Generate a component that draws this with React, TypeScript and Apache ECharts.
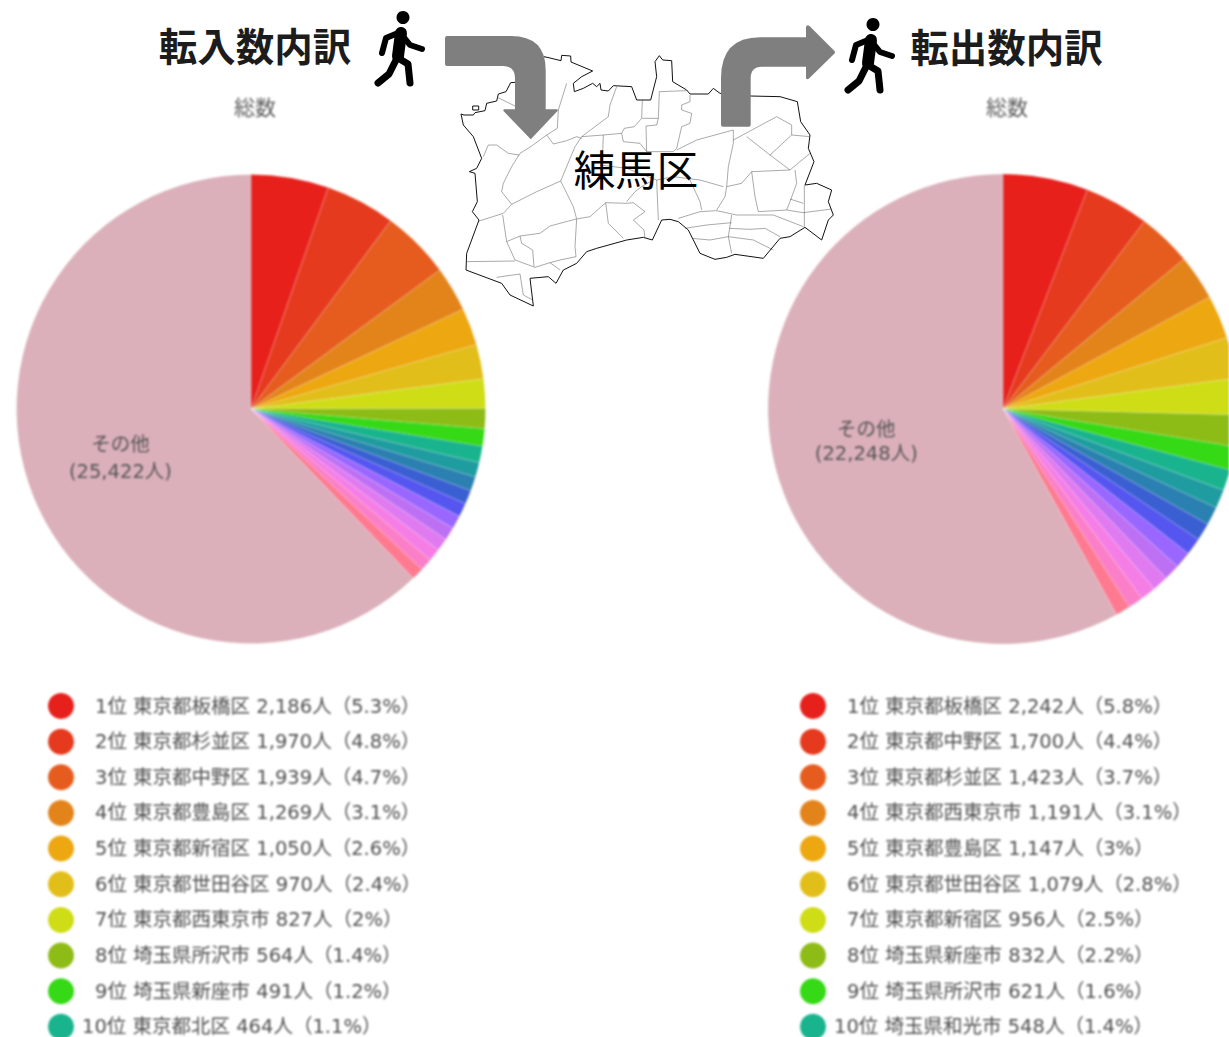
import React, { useEffect, useRef } from "react";
import * as echarts from "echarts";

const inRegions = ["東京都板橋区","東京都杉並区","東京都中野区","東京都豊島区","東京都新宿区","東京都世田谷区","東京都西東京市","埼玉県所沢市","埼玉県新座市","東京都北区"];
const inValues = [2186,1970,1939,1269,1050,970,827,564,491,464];
const inPercents = ["5.3","4.8","4.7","3.1","2.6","2.4","2","1.4","1.2","1.1"];
const inMinorValues = [412,402,392,385,375,368,362,356,350,346];
const inOther = 25422;

const outRegions = ["東京都板橋区","東京都中野区","東京都杉並区","東京都西東京市","東京都豊島区","東京都世田谷区","東京都新宿区","埼玉県新座市","埼玉県所沢市","埼玉県和光市"];
const outValues = [2242,1700,1423,1191,1147,1079,956,832,621,548];
const outPercents = ["5.8","4.4","3.7","3.1","3","2.8","2.5","2.2","1.6","1.4"];
const outMinorValues = [495,480,465,450,437,425,415,405,395,388];
const outOther = 22248;

const palette = ["#E8201C","#E63A1F","#E65C1E","#E3841B","#EDA710","#E2BE1A","#CFDD17","#8DBC16","#36D916","#19B48D","#1F9CA0","#2A80B0","#3A5FD2","#5555F0","#9966FF","#BE70F5","#E07AF0","#F57EE6","#FB7FC8","#FF7A90"];
const otherColor = "#DBB0BA";

const mapOutline = [[63,282],[72,285],[100,285],[105,278],[135,272],[140,250],[170,243],[175,222],[198,215],[212,188],[225,187],[300,135],[313,110],[363,122],[365,106],[392,108],[393,126],[458,153],[425,170],[400,190],[403,215],[430,205],[458,190],[470,200],[480,190],[483,210],[505,213],[520,197],[575,200],[590,240],[632,240],[650,170],[645,125],[658,107],[668,120],[695,122],[698,185],[740,210],[750,222],[805,222],[820,205],[840,220],[930,228],[1020,230],[1072,245],[1082,305],[1110,345],[1105,385],[1122,425],[1095,495],[1130,490],[1175,510],[1165,545],[1180,585],[1165,600],[1145,660],[1095,622],[1050,650],[1020,655],[970,715],[885,703],[860,712],[825,718],[780,700],[745,630],[715,605],[690,598],[665,600],[637,660],[610,652],[560,660],[470,685],[440,695],[410,730],[370,750],[348,790],[325,770],[270,775],[280,858],[210,825],[185,790],[78,750],[80,700],[117,600],[97,575],[112,545],[105,460],[88,455],[110,445],[125,415],[100,350],[70,315]];
const mapInner = [
  [[172,232],[225,258]],
  [[380,190],[355,270],[352,325],[320,345],[275,378],[240,400],[215,440],[190,490],[185,515],[215,553],[190,580],[117,603]],
  [[130,410],[145,375],[170,375],[205,400],[238,405]],
  [[215,553],[290,515],[362,483],[400,560],[410,597],[405,680],[408,710],[360,720],[330,728],[285,742],[225,720],[200,665],[188,585]],
  [[362,483],[405,380],[425,350],[490,345],[545,340],[553,325],[583,320],[605,295],[607,240]],
  [[425,350],[505,290],[510,255],[530,200]],
  [[320,345],[340,372],[380,362],[410,350],[425,355]],
  [[490,345],[487,425]],
  [[410,597],[450,590],[497,548],[560,550],[580,548],[615,575],[580,600],[612,630],[615,655]],
  [[497,548],[505,610],[550,655]],
  [[200,665],[240,648],[300,640],[330,618],[408,597]],
  [[240,648],[245,670],[278,690],[282,740]],
  [[80,725],[225,723]],
  [[170,772],[240,762],[250,825],[278,840]],
  [[330,728],[360,750]],
  [[607,295],[655,295],[658,215],[740,212]],
  [[655,295],[650,315],[618,318],[620,395],[700,395],[710,385],[725,320],[750,310],[755,280],[725,270],[725,255],[750,245],[750,225]],
  [[550,365],[600,370],[620,395]],
  [[545,340],[550,365]],
  [[710,390],[770,360],[880,330],[880,370],[865,440],[860,500],[855,530],[830,570]],
  [[880,360],[1010,290],[1055,315],[1055,345],[1110,350]],
  [[920,350],[990,405],[1050,450],[1110,400]],
  [[990,405],[1055,345]],
  [[1050,450],[935,455],[905,490],[860,500]],
  [[935,455],[945,530],[955,575]],
  [[1065,450],[1070,490],[1050,545],[1040,570]],
  [[1050,537],[1090,550]],
  [[715,595],[780,575],[830,572],[890,585],[1000,585],[1090,620]],
  [[955,575],[1040,570],[1090,578],[1175,567]],
  [[1093,495],[1093,620]],
  [[735,625],[800,615],[875,608]],
  [[875,585],[865,650],[875,700]],
  [[755,655],[810,660],[865,650],[940,660],[1000,690]],
  [[868,625],[930,628],[975,625],[1020,650]],
  [[650,480],[655,600]],
  [[480,435],[560,445],[650,480],[700,470],[780,480],[850,500]],
  [[750,480],[780,545],[785,570]],
  [[640,480],[605,500],[585,515],[560,545]],
];
const toPage = (p: number[]) => [440 + p[0] / 3, 20 + p[1] / 3];

const arrowLeft = "M447 36 L511 36 Q545.7 36 545.7 70 L545.7 109.3 L557 109.3 Q558.5 110 557.5 111 L531.5 138.5 Q530.7 139.5 530 138.5 L503.5 111 Q503 110 504 109.3 L515 109.3 L515 78.3 Q515 66 503 66 L447 66 Q445 66 445 64 L445 38 Q445 36 447 36 Z";
const arrowRight = "M721 124.7 L721 78.3 Q721 37.3 760 37.3 L806 37.3 L806 27 Q807 24 809.5 26 L834.5 51 Q835.5 52.3 834.5 53.5 L809.5 78 Q807 80.5 806 78 L806 66.7 L761.7 66.7 Q750.7 66.7 750.7 78.3 L750.7 124.7 Q750.7 126.7 748.7 126.7 L723 126.7 Q721 126.7 721 124.7 Z";
echarts.graphic.registerShape("arrowLeft", echarts.graphic.extendPath(arrowLeft, {}));
echarts.graphic.registerShape("arrowRight", echarts.graphic.extendPath(arrowRight, {}));

function walker(x: number, y: number) {
  const limb = (points: number[][], w: number) => ({
    type: "polyline",
    shape: { points },
    style: { stroke: "#000", lineWidth: w, fill: "none", lineCap: "round", lineJoin: "round" },
  });
  return {
    type: "group", x, y,
    children: [
      { type: "circle", shape: { cx: 403, cy: 17.5, r: 6.5 }, style: { fill: "#000" } },
      limb([[401,33],[398,56]], 12),
      limb([[398,33],[386,38],[382,53]], 6),
      limb([[402,35],[410,45],[422,49]], 6),
      limb([[397,58],[389,74],[378,83]], 7),
      limb([[398,58],[408,64],[410,83]], 7),
    ],
  };
}

function legendNames(regions: string[], values: number[], percents: string[]) {
  return regions.map((r, i) => `${i + 1}位 ${r} ${values[i].toLocaleString("en-US")}人（${percents[i]}%）`);
}

const FONT = "Noto Sans CJK JP";
const MIXED = `"DejaVu Sans","Noto Sans CJK JP"`;

function pieData(names: string[], values: number[], minor: number[], other: number, labelLH: number) {
  const main = values.map((v, i) => ({ name: names[i], value: v, itemStyle: { color: palette[i] } }));
  const rest = minor.map((v, i) => ({ name: `${i + 11}位`, value: v, itemStyle: { color: palette[i + 10] } }));
  const o = {
    name: "その他",
    value: other,
    itemStyle: { color: otherColor },
    label: {
      show: true,
      position: "inside",
      formatter: `その他\n(${other.toLocaleString("en-US")}人)`,
      color: "#555",
      fontSize: 19.5,
      lineHeight: labelLH,
      fontFamily: MIXED,
    },
  };
  return [...main, ...rest, o];
}

function legend(left: number, names: string[]) {
  const rowStyle = { fontSize: 19.5, color: "#4f4f4f", fontFamily: MIXED };
  return {
    left, top: 688, height: 400, orient: "vertical", icon: "circle",
    itemWidth: 26, itemHeight: 26, itemGap: 9.65, selectedMode: false,
    data: names,
    itemStyle: { borderWidth: 0 },
    textStyle: {
      ...rowStyle,
      rich: {
        a: { ...rowStyle, padding: [0, 0, 0, 16] },
        b: { ...rowStyle, padding: [0, 0, 0, 3] },
      },
    },
    formatter: (n: string) => (n.startsWith("10位") ? `{b|${n}}` : `{a|${n}}`),
  };
}

export default function App() {
  const pieRef = useRef<HTMLDivElement>(null);
  const mapRef = useRef<HTMLDivElement>(null);
  useEffect(() => {
    document.body.style.margin = "0";
    document.body.style.overflow = "hidden";
    const pies = echarts.init(pieRef.current!, undefined, { renderer: "svg" });
    const map = echarts.init(mapRef.current!, undefined, { renderer: "svg" });
    const inNames = legendNames(inRegions, inValues, inPercents);
    const outNames = legendNames(outRegions, outValues, outPercents);
    const pieBase = {
      type: "pie", startAngle: 90, clockwise: true, silent: true,
      avoidLabelOverlap: false, labelLine: { show: false }, label: { show: false },
      emphasis: { disabled: true },
      itemStyle: { borderColor: "rgba(255,255,255,0.28)", borderWidth: 0.7 },
    };
    const sub = { fontSize: 21, fontWeight: "normal", color: "#5c5c5c", fontFamily: FONT };
    pies.setOption({
      animation: false,
      backgroundColor: "#fff",
      title: [
        { text: "総数", left: 250, top: 101, textAlign: "center", textVerticalAlign: "middle", textStyle: sub },
        { text: "総数", left: 1002, top: 101, textAlign: "center", textVerticalAlign: "middle", textStyle: sub },
      ],
      legend: [legend(43, inNames), legend(795, outNames)],
      series: [
        { ...pieBase, center: [251, 409], radius: 234.5, data: pieData(inNames, inValues, inMinorValues, inOther, 27), labelLayout: { dx: -19, dy: 4 } },
        { ...pieBase, center: [1003, 409], radius: 235, data: pieData(outNames, outValues, outMinorValues, outOther, 24), labelLayout: { dx: -20, dy: 2 } },
      ],
    });
    map.setOption({
      animation: false,
      graphic: [
        { type: "polygon", shape: { points: mapOutline.map(toPage) }, style: { fill: "#fff", stroke: "#111", lineWidth: 1 } },
        { type: "rect", shape: { x: 472.7, y: 106, width: 6, height: 4 }, style: { fill: "#fff", stroke: "#111", lineWidth: 1 } },
        ...mapInner.map((l) => ({ type: "polyline", shape: { points: l.map(toPage) }, style: { stroke: "#555", lineWidth: 0.5, fill: "none" } })),
        { type: "arrowLeft", x: 0, y: 0, style: { fill: "#7F7F7F" } },
        { type: "arrowRight", x: 0, y: 0, style: { fill: "#7F7F7F" } },
        { type: "text", x: 636, y: 168, style: { text: "練馬区", fill: "#000", font: `41.5px "${FONT}"`, textAlign: "center", textVerticalAlign: "middle" } },
        { type: "text", x: 255, y: 44, style: { text: "転入数内訳", fill: "#1c1c1c", font: `bold 38.5px "${FONT}"`, textAlign: "center", textVerticalAlign: "middle" } },
        { type: "text", x: 1006.5, y: 45, style: { text: "転出数内訳", fill: "#1c1c1c", font: `bold 38.5px "${FONT}"`, textAlign: "center", textVerticalAlign: "middle" } },
        walker(0, 0),
        walker(470, 7),
      ],
    });
    return () => { pies.dispose(); map.dispose(); };
  }, []);
  return (
    <div style={{ position: "relative", width: 1229, height: 1037, overflow: "hidden", background: "#fff" }}>
      <div ref={pieRef} style={{ position: "absolute", left: 0, top: 0, width: 1229, height: 1100, filter: "blur(0.8px)" }} />
      <div ref={mapRef} style={{ position: "absolute", left: 0, top: 0, width: 1229, height: 1037 }} />
    </div>
  );
}
